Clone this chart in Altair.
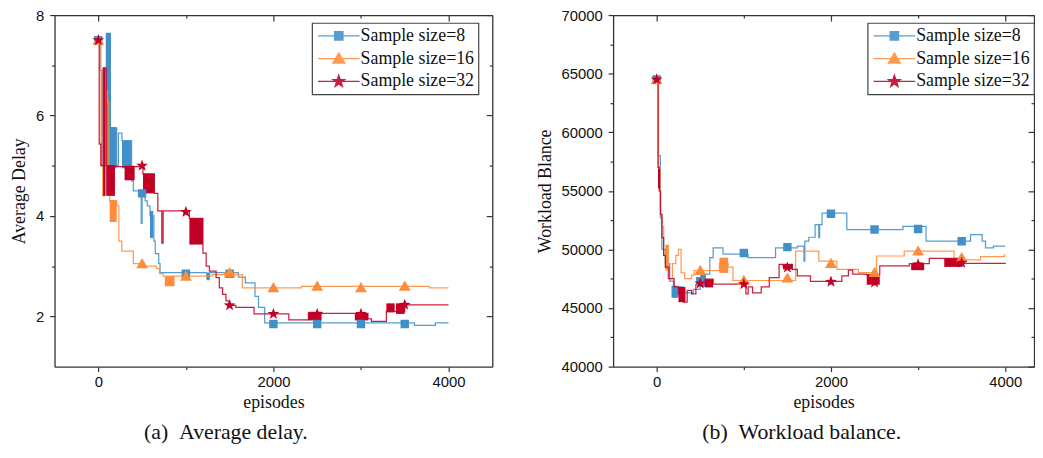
import altair as alt
import pandas as pd

SERIF = "Liberation Serif"
SANS = "Liberation Sans"
SERIES = ["Sample size=8", "Sample size=16", "Sample size=32"]
COLORS = ["#4190C8", "#FD8D3C", "#C10026"]
# marker shapes: the horizontal stroke only shows in the legend (plot markers have no stroke)
M_SQ = "M-4.2,0H4.2M-0.85,-0.85H0.85V0.85H-0.85Z"
M_TRI = "M-4.2,0H4.2M0,-1.15L1.2,0.9H-1.2Z"
M_STAR = ("M-4.2,0H4.2M0,-1.25L0.294,-0.405L1.189,-0.386L0.475,0.155L0.735,1.011L0,0.5"
          "L-0.735,1.011L-0.475,0.155L-1.189,-0.386L-0.294,-0.405Z")

# ---------------- panel (a): Average delay ----------------
a8_ep = [0, 20, 40, 85, 145, 210, 230, 270, 380, 400, 490, 500, 535, 560, 590, 635, 650,
         690, 705, 1240, 1270, 1600, 1680, 1790, 1830, 1900, 3610, 3850, 4000]
a8_val = [7.5, 6.9, 5.0, 5.0, 5.75, 5.0, 5.65, 5.5, 4.7, 4.5, 3.85, 4.5, 4.3, 4.2, 4.0, 3.5, 3.25,
          3.05, 2.87, 2.75, 2.87, 2.78, 2.67, 2.4, 2.18, 1.87, 1.82, 1.87, 1.87]
a16_ep = [0, 30, 50, 65, 95, 105, 120, 130, 210, 235, 268, 400, 470, 665, 700, 740, 875,
          1300, 1440, 1560, 1645, 2320, 3780, 4000]
a16_val = [7.5, 5.0, 4.4, 5.0, 6.5, 6.26, 5.0, 4.3, 4.2, 3.5, 3.3, 3.05, 3.0, 2.95, 2.85, 2.8, 2.8,
           2.83, 2.87, 2.83, 2.57, 2.6, 2.57, 2.57]
a32_ep = [0, 10, 30, 55, 90, 190, 415, 510, 640, 680, 725, 740, 1040, 1195, 1232, 1269, 1345,
          1382, 1420, 1458, 1496, 1570, 1779, 2176, 2400, 2550, 2930, 3080, 3120, 3290, 3500, 4000]
a32_val = [7.5, 5.43, 5.0, 6.95, 5.0, 4.98, 4.98, 4.84, 4.45, 4.1, 3.46, 4.1, 3.95, 3.26, 3.0, 2.9, 2.77,
           2.57, 2.44, 2.31, 2.22, 2.18, 2.05, 1.93, 2.08, 2.06, 2.06, 1.95, 1.9, 2.1, 2.23, 2.23]

# dense oscillation bands (start, end, low, high)
a8_blk_x1 = [85, 145, 270, 590, 1240]
a8_blk_x2 = [145, 208, 375, 628, 1268]
a8_blk_lo = [5.0, 4.95, 4.95, 3.56, 2.72]
a8_blk_hi = [7.65, 5.77, 5.5, 4.1, 2.87]
a16_blk_x1 = [130, 760]
a16_blk_x2 = [210, 870]
a16_blk_lo = [3.88, 2.6]
a16_blk_hi = [4.32, 2.8]
a32_blk_x1 = [55, 90, 300, 510, 1040, 2400, 2930, 3290, 3400]
a32_blk_x2 = [82, 190, 415, 640, 1195, 2550, 3080, 3385, 3500]
a32_blk_lo = [4.4, 4.4, 4.71, 4.45, 3.43, 1.92, 1.92, 2.08, 2.05]
a32_blk_hi = [6.95, 5.0, 5.0, 4.84, 3.95, 2.08, 2.06, 2.26, 2.26]

MK_EP = [0, 500, 1000, 1500, 2000, 2500, 3000, 3500]
a8_mk = [7.5, 4.45, 2.85, 2.85, 1.85, 1.85, 1.85, 1.85]
a16_mk = [7.5, 3.05, 2.8, 2.87, 2.57, 2.6, 2.57, 2.6]
a32_mk = [7.5, 5.0, 4.08, 2.22, 2.05, 2.05, 2.05, 2.23]

# ---------------- panel (b): Workload balance ----------------
b8_ep = [0, 20, 42, 60, 100, 150, 193, 230, 300, 420, 500, 560, 610, 648, 761, 1050, 1364,
         1614, 1690, 1700, 1746, 1818, 1860, 1870, 1898, 2182, 2826, 3091, 3602, 3735, 3773, 3864, 4000]
b8_val = [64500, 58000, 52700, 50000, 48800, 47300, 45900, 46800, 46300, 46600, 47000, 47900, 49300,
          50140, 49600, 49300, 50140, 50285, 49000, 50700, 51040, 52110, 51000, 52110, 53100, 51690,
          51970, 50700, 51270, 50700, 50140, 50280, 50280]
b16_ep = [0, 20, 40, 60, 80, 100, 130, 180, 220, 250, 280, 320, 400, 430, 720, 820, 875, 1595,
          1860, 2068, 2315, 2523, 2841, 3413, 3716, 3990, 4000]
b16_val = [64500, 57000, 53000, 52000, 49500, 48500, 47500, 48800, 49500, 50000, 48000, 47500,
           47800, 48200, 48800, 48500, 47350, 49860, 49010, 48300, 48030, 49440, 49860, 49100,
           49380, 49530, 49530]
b32_ep = [0, 15, 30, 45, 60, 80, 100, 140, 200, 250, 307, 350, 400, 450, 553, 648, 1024, 1050,
          1100, 1200, 1292, 1405, 1557, 1614, 1765, 2125, 2200, 2250, 2410, 2560, 2900, 3128, 3510, 4000]
b32_val = [64500, 57000, 55000, 53000, 51000, 49500, 48500, 47500, 46800, 46200, 45500, 46500,
           46200, 47000, 47460, 47040, 46200, 46800, 46300, 46800, 47600, 48730, 48300, 47750,
           47270, 47750, 48230, 47890, 47860, 48590, 48790, 49240, 48820, 48870]

b8_blk_x1 = [170, 500]
b8_blk_x2 = [250, 560]
b8_blk_lo = [45900, 46800]
b8_blk_hi = [46900, 47900]
b16_blk_x1 = [100, 720]
b16_blk_x2 = [140, 820]
b16_blk_lo = [48200, 48000]
b16_blk_hi = [50400, 49300]
b32_blk_x1 = [15, 250, 553, 1450, 2410, 2920, 3300]
b32_blk_x2 = [40, 330, 648, 1557, 2560, 3070, 3510]
b32_blk_lo = [55200, 45500, 46760, 48300, 46990, 48230, 48510]
b32_blk_hi = [56900, 46800, 47460, 48730, 47860, 48790, 49240]

b8_mk = [64500, 47300, 49700, 50200, 53050, 51700, 51750, 50700]
b16_mk = [64500, 48200, 47350, 47550, 48800, 48030, 49860, 49300]
b32_mk = [64500, 47100, 47040, 48450, 47240, 47180, 48730, 48870]


def lines_df(eps, vals):
    rows = []
    for s, e, v in zip(SERIES, eps, vals):
        for i, (x, y) in enumerate(zip(e, v)):
            rows.append({"series": s, "ep": x, "val": y, "i": i})
    return pd.DataFrame(rows)


def blocks_df(x1s, x2s, los, his):
    rows = []
    for s, a, b, c, d in zip(SERIES, x1s, x2s, los, his):
        for x1, x2, lo, hi in zip(a, b, c, d):
            rows.append({"series": s, "x1": x1, "x2": x2, "lo": lo, "hi": hi})
    return pd.DataFrame(rows)


def marks_df(mks):
    rows = []
    for s, m in zip(SERIES, mks):
        for x, y in zip(MK_EP, m):
            rows.append({"series": s, "ep": x, "val": y})
    return pd.DataFrame(rows)


AXIS_STYLE = dict(domainColor="#333", domainWidth=1.3, tickColor="#333", tickWidth=1.2,
                  grid=False, labelFont=SANS, labelFontSize=15, labelColor="#111",
                  titleFont=SERIF, titleFontSize=18, titleFontWeight="normal", titleColor="#111")


def panel(ld, bd, md, xdom, ydom, xmaj, xmin, ymaj, ymin, ytitle, caption, cdx, lx, ly, w, h):
    xs = alt.Scale(domain=xdom, nice=False, zero=False)
    ys = alt.Scale(domain=ydom, nice=False, zero=False)
    cs = alt.Scale(domain=SERIES, range=COLORS)
    shs = alt.Scale(domain=SERIES, range=[M_SQ, M_TRI, M_STAR])
    leg = alt.Legend(title=None, orient="none", legendX=lx, legendY=ly, direction="vertical",
                     labelFont=SERIF, labelFontSize=18, labelColor="#111", symbolSize=100,
                     symbolOffset=14, labelOffset=13, padding=4, rowPadding=5,
                     strokeColor="#444", fillColor="white", symbolStrokeWidth=1.3)
    axes_x = [
        alt.Axis(orient="bottom", values=xmaj, title="episodes", tickSize=5, labelPadding=3,
                 titlePadding=4, format="d", **AXIS_STYLE),
        alt.Axis(orient="bottom", values=xmin, title=None, labels=False, tickSize=3,
                 domain=False, **AXIS_STYLE),
        alt.Axis(orient="top", values=xmaj, title=None, labels=False,
                 tickSize=alt.ExprRef("-6"), **AXIS_STYLE),
        alt.Axis(orient="top", values=xmin, title=None, labels=False,
                 tickSize=alt.ExprRef("-3"), domain=False, **AXIS_STYLE),
    ]
    axes_y = [
        alt.Axis(orient="left", values=ymaj, title=ytitle, tickSize=5, labelPadding=6,
                 titlePadding=7, format="d", **AXIS_STYLE),
        alt.Axis(orient="left", values=ymin, title=None, labels=False, tickSize=3,
                 domain=False, **AXIS_STYLE),
        alt.Axis(orient="right", values=ymaj, title=None, labels=False,
                 tickSize=alt.ExprRef("-6"), **AXIS_STYLE),
        alt.Axis(orient="right", values=ymin, title=None, labels=False,
                 tickSize=alt.ExprRef("-3"), domain=False, **AXIS_STYLE),
    ]
    color = alt.Color("series:N", scale=cs, legend=leg)
    layers = []
    n = 0
    for s in SERIES:
        for kind in ("line", "rect"):
            ax = axes_x[n] if n < 4 else None
            ay = axes_y[n] if n < 4 else None
            if kind == "line":
                layers.append(
                    alt.Chart(ld).transform_filter(alt.datum.series == s)
                    .mark_line(interpolate="step-after", strokeWidth=1.25, opacity=0.88)
                    .encode(x=alt.X("ep:Q", scale=xs, axis=ax),
                            y=alt.Y("val:Q", scale=ys, axis=ay),
                            color=color, order="i:Q"))
            else:
                layers.append(
                    alt.Chart(bd).transform_filter(alt.datum.series == s)
                    .mark_rect(opacity=1)
                    .encode(x=alt.X("x1:Q", scale=xs, axis=ax), x2="x2:Q",
                            y=alt.Y("lo:Q", scale=ys, axis=ay), y2="hi:Q",
                            color=color))
            n += 1
    layers.append(
        alt.Chart(md).mark_point(filled=True, opacity=1, size=100, strokeWidth=0)
        .encode(x=alt.X("ep:Q", scale=xs, axis=None),
                y=alt.Y("val:Q", scale=ys, axis=None),
                color=color,
                shape=alt.Shape("series:N", scale=shs, legend=leg)))
    return (alt.layer(*layers)
            .resolve_axis(x="independent", y="independent")
            .properties(width=w, height=h,
                        title=alt.TitleParams(caption, orient="bottom", anchor="middle",
                                              frame="group", dx=cdx, font=SERIF, fontSize=22,
                                              fontWeight="normal", color="#111", offset=11)))


pa = panel(lines_df([a8_ep, a16_ep, a32_ep], [a8_val, a16_val, a32_val]),
           blocks_df([a8_blk_x1, a16_blk_x1, a32_blk_x1], [a8_blk_x2, a16_blk_x2, a32_blk_x2],
                     [a8_blk_lo, a16_blk_lo, a32_blk_lo], [a8_blk_hi, a16_blk_hi, a32_blk_hi]),
           marks_df([a8_mk, a16_mk, a32_mk]),
           [-500, 4500], [1, 8], [0, 2000, 4000], [1000, 3000], [2, 4, 6, 8], [3, 5, 7],
           "Average Delay", "(a)\u2002Average delay.", -48, 260, 8, 442, 355)

pb = panel(lines_df([b8_ep, b16_ep, b32_ep], [b8_val, b16_val, b32_val]),
           blocks_df([b8_blk_x1, b16_blk_x1, b32_blk_x1], [b8_blk_x2, b16_blk_x2, b32_blk_x2],
                     [b8_blk_lo, b16_blk_lo, b32_blk_lo], [b8_blk_hi, b16_blk_hi, b32_blk_hi]),
           marks_df([b8_mk, b16_mk, b32_mk]),
           [-500, 4330], [40000, 70000], [0, 2000, 4000], [1000, 3000],
           list(range(40000, 70001, 5000)), list(range(42500, 70000, 5000)),
           "Workload Blance", "(b)\u2002Workload balance.", -22, 257, 8, 425, 355)

chart = (alt.hconcat(pa, pb, spacing=43)
         .resolve_scale(color="independent", shape="independent")
         .resolve_legend(color="independent", shape="independent")
         .properties(padding={"left": 2, "top": -2, "right": 0, "bottom": 0})
         .configure_view(stroke=None)
         .configure_legend(strokeWidth=1.2))

chart.save("out.html", embed_options={"renderer": "svg", "actions": False})
